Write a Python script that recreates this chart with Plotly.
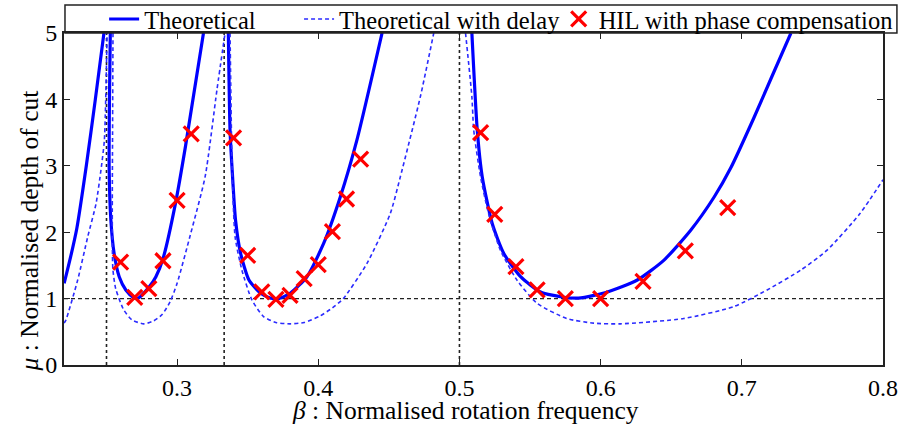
import plotly.graph_objects as go

# ---------------- data ----------------
# Theoretical stability lobes (None separates lobes at the asymptotes)
theo_beta = [0.2200, 0.2245, 0.2290, 0.2357, 0.2421, 0.2482, None,
             0.2527, 0.2521, 0.2519, 0.2531, 0.2554, 0.2590, 0.2637, 0.2690, 0.2720,
             0.2800, 0.2850, 0.2900, 0.2990, 0.3060, 0.3187, None,
             0.3363, 0.3375, 0.3390, 0.3414, 0.3450, 0.3509, 0.3592, 0.3660, 0.3720,
             0.3801, 0.3920, 0.4038, 0.4156, 0.4274, 0.4452, None,
             0.5088, 0.5126, 0.5161, 0.5232, 0.5314, 0.5433, 0.5574, 0.5740, 0.5860,
             0.6048, 0.6260, 0.6449, 0.6638, 0.6804, 0.6922, 0.7085, 0.7210, 0.7348]
theo_mu = [1.23, 1.62, 2.06, 3.00, 4.00, 5.00, None,
           5.00, 4.00, 2.94, 2.18, 1.68, 1.33, 1.13, 1.02, 1.00,
           1.17, 1.33, 1.60, 2.45, 3.30, 5.00, None,
           5.00, 3.54, 2.94, 2.18, 1.68, 1.28, 1.08, 1.01, 1.00,
           1.08, 1.33, 1.83, 2.53, 3.39, 5.00, None,
           5.00, 3.54, 2.84, 2.13, 1.68, 1.33, 1.10, 1.02, 1.01,
           1.10, 1.28, 1.58, 2.03, 2.53, 2.97, 3.72, 4.33, 5.00]

# Theoretical with delay
delay_beta = [0.2200, 0.2213, 0.2296, 0.2367, 0.2426, 0.2461, 0.2485, 0.2504, None,
              0.2546, 0.2543, 0.2541, 0.2545, 0.2565, 0.2622, 0.2680, 0.2764, 0.2830,
              0.2894, 0.2950, 0.3000, 0.3094, 0.3199, 0.3282, 0.3340, None,
              0.3375, 0.3385, 0.3390, 0.3411, 0.3459, 0.3530, 0.3612, 0.3700, 0.3801,
              0.3900, 0.4014, 0.4100, 0.4177, 0.4345, 0.4510, 0.4582, 0.4723, 0.4818, None,
              0.5043, 0.5088, 0.5101, 0.5149, 0.5206, 0.5290, 0.5407, 0.5549, 0.5760,
              0.5950, 0.6142, 0.6589, 0.6943, 0.7179, 0.7418, 0.7604, 0.7837, 0.8000]
delay_mu = [0.63, 0.68, 1.28, 1.93, 2.43, 2.94, 3.39, 5.00, None,
            5.00, 3.50, 2.20, 1.45, 1.15, 0.83, 0.68, 0.62, 0.66,
            0.76, 0.95, 1.23, 1.96, 2.84, 4.14, 5.00, None,
            5.00, 3.50, 2.94, 1.93, 1.43, 0.98, 0.73, 0.64, 0.62,
            0.64, 0.74, 0.86, 1.00, 1.53, 2.28, 2.84, 4.04, 5.00, None,
            5.00, 4.04, 3.54, 2.84, 2.28, 1.73, 1.28, 0.93, 0.70,
            0.63, 0.62, 0.70, 0.88, 1.13, 1.43, 1.73, 2.28, 2.79]

# HIL with phase compensation (experimental points)
hil_beta = [0.26, 0.27, 0.28, 0.29, 0.30, 0.31,
            0.34, 0.35, 0.36, 0.37, 0.38, 0.39, 0.40, 0.41, 0.42, 0.43,
            0.515, 0.525, 0.54, 0.555, 0.575, 0.60, 0.63, 0.66, 0.69]
hil_mu = [1.55, 1.02, 1.15, 1.57, 2.48, 3.48,
          3.42, 1.65, 1.10, 0.99, 1.05, 1.30, 1.51, 2.01, 2.50, 3.10,
          3.50, 2.27, 1.48, 1.13, 1.00, 1.00, 1.26, 1.72, 2.37]

# reference guides
asymptote_beta = [0.25, 1 / 3, 0.5]
unit_mu = 1.0

x_ticks = [0.3, 0.4, 0.5, 0.6, 0.7, 0.8]
y_ticks = [0, 1, 2, 3, 4, 5]
x_range = [0.2199, 0.8]
y_range = [0, 5]

# ---------------- figure ----------------
FONT = "Liberation Serif, Times New Roman, serif"

fig = go.Figure()

fig.add_trace(go.Scatter(
    x=theo_beta, y=theo_mu, mode="lines", name="Theoretical",
    line=dict(color="#0000FF", width=3.2, shape="spline", smoothing=0.6),
    connectgaps=False, legend="legend"))

fig.add_trace(go.Scatter(
    x=delay_beta, y=delay_mu, mode="lines", name="Theoretical with delay",
    line=dict(color="#2B2BFF", width=1.6, dash="4px,3px", shape="spline", smoothing=0.6),
    connectgaps=False, legend="legend2"))

fig.add_trace(go.Scatter(
    x=hil_beta, y=hil_mu, mode="markers", name="HIL with phase compensation",
    marker=dict(symbol="x-thin", size=15, color="#FF0000",
                line=dict(color="#FF0000", width=3.2)),
    legend="legend3"))

# guide lines
for b in asymptote_beta:
    fig.add_shape(type="line", xref="x", yref="y", x0=b, x1=b,
                  y0=y_range[0], y1=y_range[1],
                  line=dict(color="#222222", width=1.6, dash="3px,3px"), layer="below")
fig.add_shape(type="line", xref="x", yref="y", x0=x_range[0], x1=x_range[1],
              y0=unit_mu, y1=unit_mu,
              line=dict(color="#222222", width=1.4, dash="4px,3px"), layer="below")

# legend frame (paper coords)
fig.add_shape(type="rect", xref="paper", yref="paper",
              x0=0.0012, x1=1.017, y0=1.0, y1=1.084,
              line=dict(color="#222222", width=1.5), fillcolor="rgba(0,0,0,0)",
              layer="above")

leg_common = dict(orientation="h", yanchor="middle", y=1.042, xanchor="left",
                  bgcolor="rgba(0,0,0,0)", borderwidth=0,
                  font=dict(family=FONT, size=24.5, color="black"))
fig.update_layout(
    legend=dict(x=0.049, **leg_common),
    legend2=dict(x=0.287, **leg_common),
    legend3=dict(x=0.604, **leg_common),
)

axis_common = dict(showgrid=False, zeroline=False, showline=True, linecolor="#222222",
                   linewidth=2, mirror="ticks", ticks="inside", ticklen=6,
                   tickwidth=1.2, tickcolor="#222222", automargin=False,
                   tickfont=dict(family=FONT, size=24, color="black"))
fig.update_xaxes(range=x_range, tickvals=x_ticks,
                 ticktext=[f"{v:.1f}" for v in x_ticks], **axis_common)
fig.update_yaxes(range=y_range, tickvals=y_ticks,
                 ticktext=[str(v) for v in y_ticks], **axis_common)

fig.add_annotation(xref="paper", yref="paper", x=0.49, y=-0.136,
                   text="<i>β</i> : Normalised rotation frequency", showarrow=False,
                   font=dict(family=FONT, size=25.5, color="black"),
                   xanchor="center", yanchor="middle")
fig.add_annotation(xref="paper", yref="paper", x=-0.042, y=0.404,
                   text="<i>μ</i> : Normalised depth of cut", showarrow=False,
                   textangle=-90,
                   font=dict(family=FONT, size=25.5, color="black"),
                   xanchor="center", yanchor="middle")

fig.update_layout(
    width=902, height=426,
    margin=dict(l=64, r=19, t=33, b=61, autoexpand=False),
    paper_bgcolor="white", plot_bgcolor="white",
    showlegend=True,
)

# remove the browser's default 8px body margin so the figure fills the window exactly
fig.write_html("out.html",
               config={"displayModeBar": False},
               post_script="document.body.style.margin='0';document.body.style.overflow='hidden';")
